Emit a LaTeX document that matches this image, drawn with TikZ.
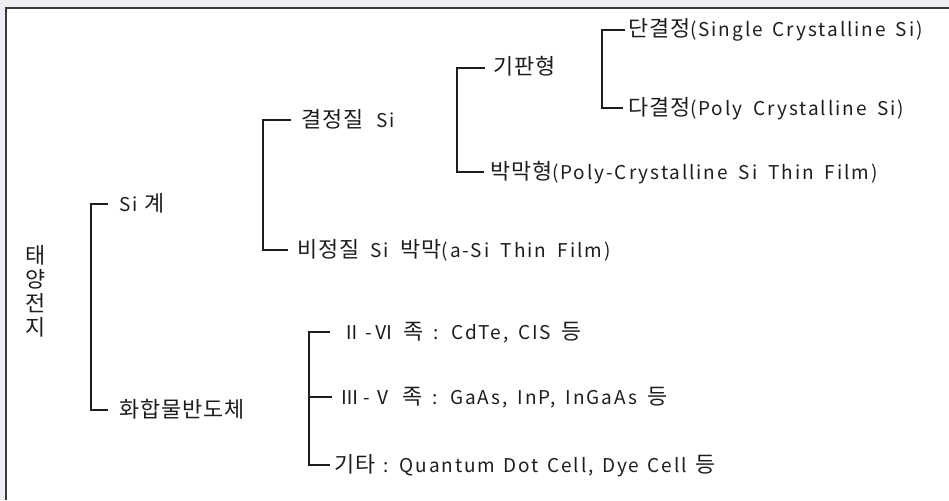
\documentclass[tikz,border=0pt]{standalone}
\usepackage{fontspec}
\setmainfont[LetterSpace=10]{Noto Sans CJK KR}
\newfontfamily\kr[Scale=1.15, LetterSpace=4]{Noto Sans CJK KR}
\newcommand\wordgap[1]{\spaceskip=#1\relax}
\definecolor{ink}{HTML}{1E1E1E}
\definecolor{frame}{HTML}{3A3A3A}
\definecolor{margin}{HTML}{ECEEF4}
\tikzset{
  lbl/.style={anchor=west, inner sep=0pt, text height=16pt, text depth=2pt,
    font=\fontsize{19}{22}\selectfont, text=ink},
  br/.style={draw=ink, line width=1.6pt},
}
\begin{document}
\begin{tikzpicture}[x=1pt, y=-1pt]
  \useasboundingbox (0,0) rectangle (949,500);
  % page margin and frame
  \fill[margin] (0,0) rectangle (949,500);
  \fill[white] (6,8) rectangle (949,500);
  \draw[frame, line width=1.6pt] (6,500) -- (6,8) -- (949,8);

  % root, set vertically
  \node[inner sep=0pt, text=ink, align=center,
        font=\fontsize{19}{24}\selectfont\kr] (root) at (36,291)
        {태\\양\\전\\지};

  % first level
  \node[lbl] (si)   at (119,204) {Si\hspace{7pt}{\kr 계}};
  \node[lbl] (comp) at (119,410) {\kr 화합물반도체};

  % silicon branch
  \node[lbl] (cry) at (301,120) {\wordgap{13pt}{\kr 결정질} Si};
  \node[lbl] (amo) at (297,250) {\wordgap{11.5pt}{\kr 비정질} Si {\kr 박막}(a-Si Thin Film)};

  \node[lbl] (sub)  at (493,68)  {\kr 기판형};
  \node[lbl] (thin) at (490,172) {\wordgap{11pt}{\kr 박막형}(Poly-Crystalline Si Thin Film)};

  \node[lbl] (mono) at (628,30)  {\wordgap{10pt}{\kr 단결정}(Single Crystalline Si)};
  \node[lbl] (poly) at (628,108) {\wordgap{11pt}{\kr 다결정}(Poly Crystalline Si)};

  % compound semiconductor branch
  \node[lbl] (g26) at (342,332)
    {\wordgap{10pt}Ⅱ\hspace{4pt}-\hspace{3pt}Ⅵ {\kr 족} : CdTe, CIS {\kr 등}};
  \node[lbl] (g35) at (340,397)
    {\wordgap{10pt}Ⅲ\hspace{4pt}-\hspace{4pt}Ⅴ {\kr 족} : GaAs, InP, InGaAs {\kr 등}};
  \node[lbl] (etc) at (334,465)
    {\wordgap{8.5pt}{\kr 기타} : Quantum Dot Cell, Dye Cell {\kr 등}};

  % brackets
  \draw[br] ([xshift=-11pt]si.west) -- ++(-17pt,0) |- ([xshift=-11pt]comp.west);
  \draw[br] ([xshift=-10pt]cry.west) -- ++(-28pt,0) |- ([xshift=-9pt]amo.west);
  \draw[br] ([xshift=-8pt]sub.west) -- ++(-28pt,0) |- ([xshift=-6pt]thin.west);
  \draw[br] ([xshift=-3pt]mono.west) -- ++(-23pt,0) |- ([xshift=-5pt]poly.west);
  \draw[br] ([xshift=-12pt]g26.west) -- ++(-21pt,0) |- ([xshift=-4pt]etc.west);
  \draw[br] ([xshift=-8pt]g35.west) -- ++(-23pt,0);
\end{tikzpicture}
\end{document}
